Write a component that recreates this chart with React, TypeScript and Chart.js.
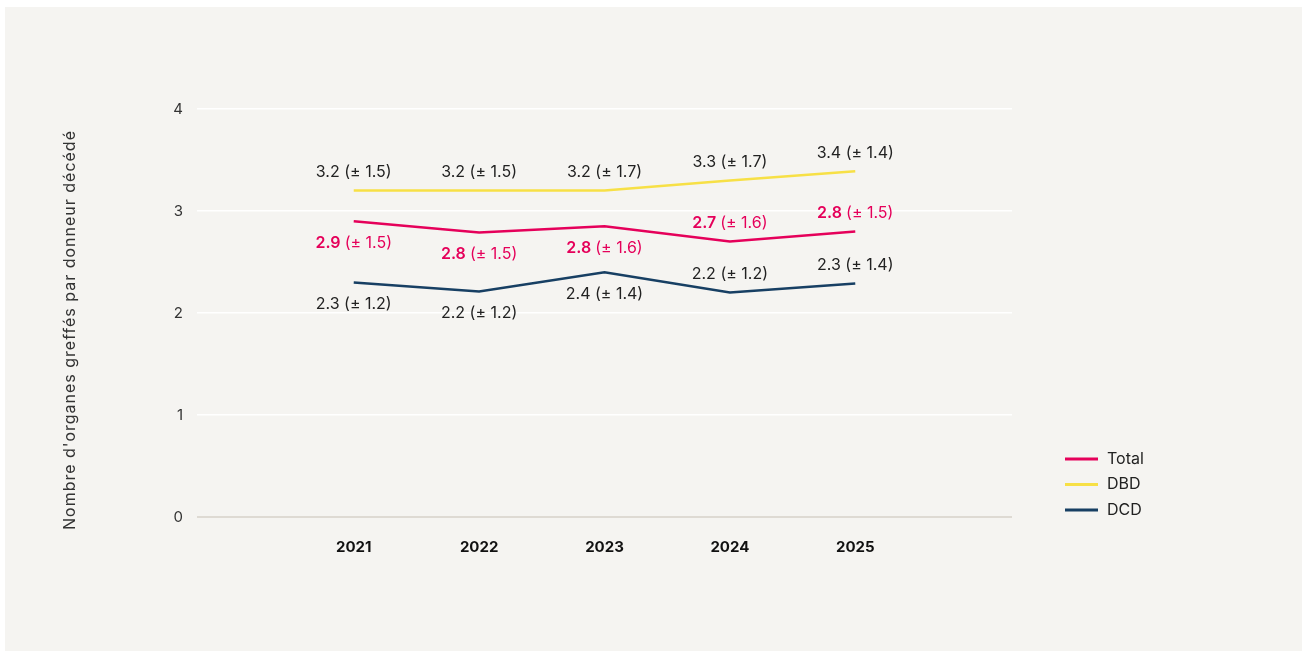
import React, { useEffect, useRef } from "react";
import { Chart, registerables } from "chart.js";

Chart.register(...registerables);

// ---- data ----
const years = [2021, 2022, 2023, 2024, 2025];
const yTicks = [0, 1, 2, 3, 4];

const totalValues = [2.9, 2.79, 2.85, 2.7, 2.8];
const dbdValues = [3.2, 3.2, 3.2, 3.3, 3.39];
const dcdValues = [2.3, 2.21, 2.4, 2.2, 2.29];

const totalMeanText = ["2.9", "2.8", "2.8", "2.7", "2.8"];
const totalSdText = ["1.5", "1.5", "1.6", "1.6", "1.5"];
const dbdMeanText = ["3.2", "3.2", "3.2", "3.3", "3.4"];
const dbdSdText = ["1.5", "1.5", "1.7", "1.7", "1.4"];
const dcdMeanText = ["2.3", "2.2", "2.4", "2.2", "2.3"];
const dcdSdText = ["1.2", "1.2", "1.4", "1.2", "1.4"];

const seriesNames = ["Total", "DBD", "DCD"];
const yTitle = "Nombre d'organes greffés par donneur décédé";

// ---- styles ----
const FONT = "Inter, 'Noto Sans', sans-serif";
const COLORS = ["#e5005a", "#f7e046", "#173f63"];
const TEXT = "#222222";
const BG = "#f5f4f1";
// label placement per series/point: -1 above, +1 below
const placement = [
  [1, 1, 1, -1, -1],
  [-1, -1, -1, -1, -1],
  [1, 1, 1, -1, -1],
];

const labelPlugin = {
  id: "valueLabels",
  afterDatasetsDraw(chart: any) {
    const ctx = chart.ctx;
    const means = [totalMeanText, dbdMeanText, dcdMeanText];
    const sds = [totalSdText, dbdSdText, dcdSdText];
    ctx.save();
    ctx.textBaseline = "middle";
    ctx.textAlign = "left";
    for (let i = 0; i < 3; i++) {
      const meta = chart.getDatasetMeta(i);
      meta.data.forEach((pt: any, j: number) => {
        const dir = placement[i][j];
        const y = pt.y + (dir < 0 ? -18 : 22);
        const a = means[i][j] + " ";
        const b = "(± " + sds[i][j] + ")";
        const boldFont = (i === 0 ? "600 " : "400 ") + "16px " + FONT;
        const normFont = "400 16px " + FONT;
        ctx.font = boldFont;
        const wa = ctx.measureText(a).width;
        ctx.font = normFont;
        const wb = ctx.measureText(b).width;
        const x0 = pt.x - (wa + wb) / 2;
        ctx.fillStyle = i === 0 ? COLORS[0] : TEXT;
        ctx.font = boldFont;
        ctx.fillText(a, x0, y);
        ctx.font = normFont;
        ctx.fillText(b, x0 + wa, y);
      });
    }
    ctx.restore();
  },
  afterDraw(chart: any) {
    const ctx = chart.ctx;
    const area = chart.chartArea;
    ctx.save();
    // y axis title
    ctx.translate(65, 323);
    ctx.rotate(-Math.PI / 2);
    ctx.textAlign = "center";
    ctx.textBaseline = "middle";
    ctx.fillStyle = "#333333";
    ctx.font = "400 16px " + FONT;
    try { (ctx as any).letterSpacing = "1px"; } catch (e) {}
    ctx.fillText(yTitle, 0, 0);
    ctx.restore();
    // legend
    ctx.save();
    ctx.textBaseline = "middle";
    ctx.textAlign = "left";
    ctx.font = "400 16px " + FONT;
    seriesNames.forEach((name, i) => {
      const y = 452 + i * 25.5;
      const x = area.right + 53;
      ctx.strokeStyle = COLORS[i];
      ctx.lineWidth = 3;
      ctx.beginPath();
      ctx.moveTo(x, y);
      ctx.lineTo(x + 33, y);
      ctx.stroke();
      ctx.fillStyle = TEXT;
      ctx.fillText(name, x + 42, y);
    });
    ctx.restore();
  },
};

export default function App() {
  const ref = useRef<HTMLCanvasElement>(null);
  useEffect(() => {
    if (!ref.current) return;
    const mk = (vals: number[]) => years.map((yr, i) => ({ x: yr, y: vals[i] }));
    const chart = new Chart(ref.current, {
      type: "line",
      data: {
        datasets: [
          { label: seriesNames[0], data: mk(totalValues), borderColor: COLORS[0], backgroundColor: COLORS[0], borderWidth: 2.5, pointRadius: 0, tension: 0 },
          { label: seriesNames[1], data: mk(dbdValues), borderColor: COLORS[1], backgroundColor: COLORS[1], borderWidth: 2.5, pointRadius: 0, tension: 0 },
          { label: seriesNames[2], data: mk(dcdValues), borderColor: COLORS[2], backgroundColor: COLORS[2], borderWidth: 2.5, pointRadius: 0, tension: 0 },
        ],
      },
      options: {
        animation: false,
        responsive: true,
        maintainAspectRatio: false,
        layout: { padding: { top: 102, right: 290, left: 0, bottom: 0 } },
        plugins: { legend: { display: false }, tooltip: { enabled: false } },
        scales: {
          x: {
            type: "linear",
            min: 2019.75,
            max: 2026.25,
            afterBuildTicks: (scale: any) => {
              scale.ticks = years.map((v) => ({ value: v }));
            },
            afterFit: (scale: any) => {
              scale.height = 134;
            },
            ticks: {
              callback: (v: any) => String(v),
              padding: 13,
              color: "#111111",
              font: { family: FONT, size: 15, weight: "bold" },
              maxRotation: 0,
              autoSkip: false,
            },
            grid: { display: false },
            border: { display: false },
          },
          y: {
            min: 0,
            max: 4,
            afterBuildTicks: (scale: any) => {
              scale.ticks = yTicks.map((v) => ({ value: v }));
            },
            afterFit: (scale: any) => {
              scale.width = 192;
            },
            ticks: {
              padding: 14,
              color: "#333333",
              font: { family: FONT, size: 15 },
            },
            grid: {
              drawTicks: false,
              color: (c: any) => (c.tick && c.tick.value === 0 ? "#dedad3" : "#ffffff"),
              lineWidth: (c: any) => (c.tick && c.tick.value === 0 ? 2 : 1.5),
            },
            border: { display: false },
          },
        },
      },
      plugins: [labelPlugin],
    });
    return () => chart.destroy();
  }, []);
  return (
    <div style={{ position: "absolute", left: 5, top: 7, width: 1297, height: 644, background: BG }}>
      <canvas ref={ref} />
    </div>
  );
}
